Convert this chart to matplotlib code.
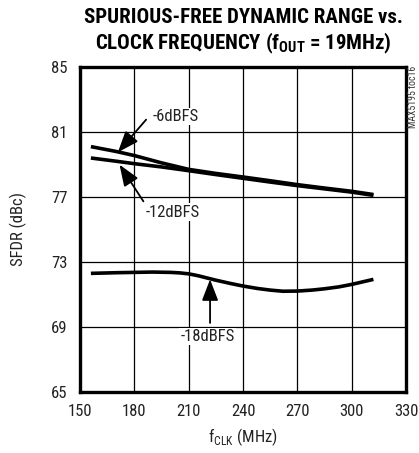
import numpy as np
import matplotlib
matplotlib.use("Agg")
import matplotlib.pyplot as plt

plt.rcParams['font.family'] = ['Roboto Condensed', 'DejaVu Sans']
plt.rcParams['mathtext.fontset'] = 'custom'
plt.rcParams['mathtext.rm'] = 'Roboto Condensed'
plt.rcParams['mathtext.bf'] = 'Roboto Condensed:bold'

# SFDR vs clock frequency
f_6 = [156, 170, 180, 195, 210, 225, 240, 255, 270, 285, 300, 312]
sfdr_6 = [80.1, 79.8, 79.55, 79.1, 78.7, 78.45, 78.23, 78.0, 77.76, 77.55, 77.35, 77.15]
f_12 = [156, 170, 180, 195, 210, 225, 240, 255, 270, 285, 300, 312]
sfdr_12 = [79.4, 79.2, 79.05, 78.85, 78.62, 78.38, 78.15, 77.92, 77.7, 77.5, 77.3, 77.1]
f_18 = [156, 170, 180, 190, 200, 205, 210, 215, 220, 225, 233, 240, 248, 255, 262, 270, 278, 285, 293, 300, 312]
sfdr_18 = [72.3, 72.34, 72.36, 72.38, 72.36, 72.33, 72.27, 72.16, 72.02, 71.88, 71.68, 71.52, 71.37, 71.27, 71.2, 71.21, 71.27, 71.35, 71.47, 71.62, 71.93]

xticks = [150, 180, 210, 240, 270, 300, 330]
yticks = [65, 69, 73, 77, 81, 85]

fig = plt.figure(figsize=(4.19, 4.53), dpi=100)
ax = fig.add_axes([0.191, 0.1347, 0.778, 0.7174])

for x, y in [(f_6, sfdr_6), (f_12, sfdr_12), (f_18, sfdr_18)]:
    ax.plot(x, y, color='black', lw=2.6, solid_capstyle='butt')

ax.set_xlim(150, 330)
ax.set_ylim(65, 85)
ax.set_xticks(xticks)
ax.set_yticks(yticks)
ax.tick_params(length=0, labelsize=12, pad=9, labelcolor='#222222')
ax.grid(True, color='black', lw=0.9)
for s in ax.spines.values():
    s.set_linewidth(2.4)

arrow = dict(arrowstyle='-|>,head_length=0.65,head_width=0.25', color='black', lw=1.3,
             mutation_scale=20, shrinkA=0, shrinkB=0)
box = dict(facecolor='white', edgecolor='none', pad=1)
lab = dict(ha='center', va='center', fontsize=12, color='#222222', bbox=box)
ax.annotate('', xy=(170.9, 79.75), xytext=(186.5, 81.76), arrowprops=arrow)
ax.text(203, 81.95, '-6dBFS', **lab)
ax.annotate('', xy=(171.8, 78.99), xytext=(185, 76.73), arrowprops=arrow)
ax.text(201.2, 76.06, '-12dBFS', **lab)
ax.annotate('', xy=(221.8, 71.93), xytext=(221.8, 69.25), arrowprops=arrow)
ax.text(220.5, 68.42, '-18dBFS', **lab)

ax.set_xlabel(r'f$_{\mathrm{CLK}}$ (MHz)', fontsize=12, labelpad=5, color='#222222')
ax.set_ylabel('SFDR (dBc)', fontsize=12, labelpad=17, color='#222222')

fig.text(0.58, 0.962, 'SPURIOUS-FREE DYNAMIC RANGE vs.', ha='center', va='center',
         fontsize=15, fontweight='bold')
fig.text(0.58, 0.905, r'CLOCK FREQUENCY (f$_{\mathbf{OUT}}$ = 19MHz)', ha='center', va='center',
         fontsize=15, fontweight='bold')
fig.text(0.985, 0.855, 'MAX5195 toc16', rotation=90, ha='center', va='top', fontsize=7,
         color='#333333')

fig.savefig('out.png', dpi=100)
